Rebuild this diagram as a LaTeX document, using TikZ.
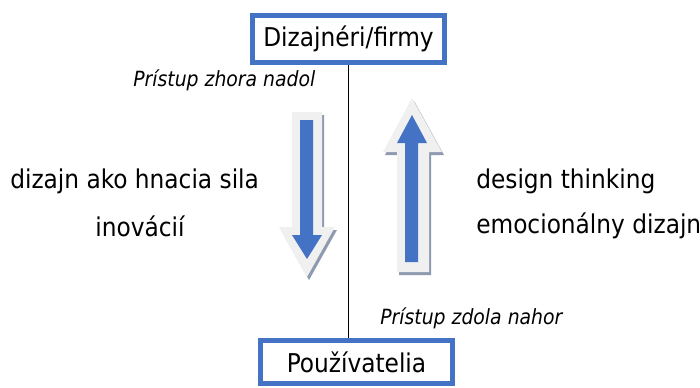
\documentclass[tikz,border=0pt]{standalone}
\usepackage{fontspec}
\setmainfont{DejaVu Sans Condensed}
\usetikzlibrary{positioning}

\definecolor{boxblue}{HTML}{4472C4}
\definecolor{rimgray}{HTML}{F0F0F0}
\definecolor{shadowgray}{HTML}{8E9AAF}

\begin{document}
\begin{tikzpicture}[
    x=0.75pt, y=-0.75pt,
    actor/.style={draw=boxblue,line width=3.75pt,inner sep=0pt,font=\fontsize{19.4}{21}\selectfont},
    label/.style={inner sep=0pt,anchor=west,font=\fontsize{19.4}{21}\selectfont},
    approach/.style={inner sep=0pt,anchor=west,font=\fontsize{15.7}{17}\selectfont\itshape}
    ]

    \useasboundingbox (0,0) rectangle (700,387);

    \node(firms) [actor,minimum width=144pt,minimum height=35.25pt] at (348.5,39) {Dizajnéri/firmy};
    \node(users) [actor,minimum width=144pt,minimum height=32.25pt] at (356.5,362) {Používatelia};

    \draw[line width=1pt] (firms.south) -- (firms.south |- users.north);

    % arrow down (shadow, rim, blue)
    \fill[shadowgray] (294,115) -- (324,115) -- (324,230) -- (337,230) -- (309,280) -- (281,230) -- (294,230) -- cycle;
    \fill[rimgray] (292,112) -- (322,112) -- (322,227) -- (335,227) -- (307,277) -- (279,227) -- (292,227) -- cycle;
    \fill[boxblue] (300,120) -- (313,120) -- (313,235) -- (322,235) -- (307,259) -- (292,235) -- (300,235) -- cycle;

    % arrow up (shadow, rim, blue)
    \fill[shadowgray] (399,275) -- (431,275) -- (431,155) -- (444,155) -- (414,101) -- (385,155) -- (399,155) -- cycle;
    \fill[rimgray] (397,272) -- (429,272) -- (429,152) -- (442,152) -- (412,98) -- (383,152) -- (397,152) -- cycle;
    \fill[boxblue] (405,262) -- (418,262) -- (418,143) -- (427,143) -- (412,115) -- (397,143) -- (405,143) -- cycle;

    \node(down) [approach] at (133,80) {Prístup zhora nadol};
    \node(up) [approach] at (380,318) {Prístup zdola nahor};

    \node(driver) [label] at (10,181) {dizajn ako hnacia sila};
    \node(innov) [label,anchor=center] at (140,226) {inovácií};
    \node(thinking) [label] at (476,181) {design thinking};
    \node(emotion) [label] at (476,226) {emocionálny dizajn};

  \end{tikzpicture}
\end{document}
